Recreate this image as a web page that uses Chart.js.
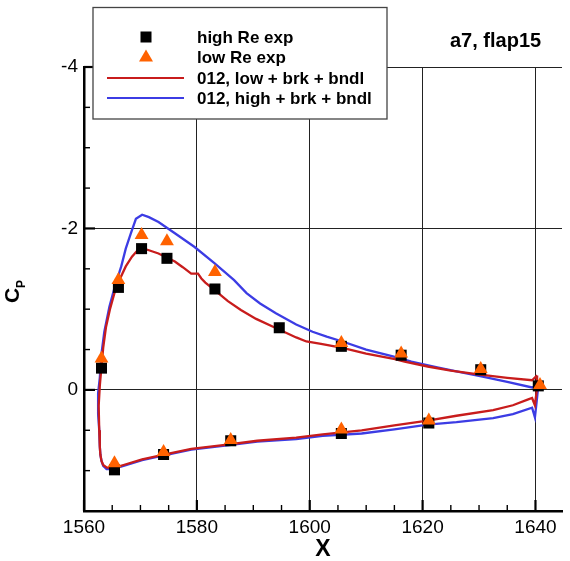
<!DOCTYPE html>
<html>
<head>
<meta charset="utf-8">
<script src="https://cdn.jsdelivr.net/npm/chart.js@4.4.1/dist/chart.umd.min.js"></script>
<style>
html,body{margin:0;padding:0;background:#fff;}
#wrap{width:570px;height:561px;position:relative;}
</style>
</head>
<body>
<div id="wrap"><canvas id="c" width="570" height="561"></canvas></div>
<script>
// ---- data ----
const highReX = [1563.1,1566.1,1570.2,1574.7,1583.2,1594.6,1605.6,1616.2,1630.3,1640.5,1565.4,1574.1,1586.0,1605.6,1621.1];
const highReY = [-0.27,-1.27,-1.75,-1.63,-1.25,-0.77,-0.54,-0.43,-0.25,-0.05,0.99,0.80,0.63,0.54,0.41];

const lowReX = [1563.1,1566.1,1570.2,1574.7,1583.2,1605.6,1616.2,1630.3,1640.8,1565.4,1574.1,1586.0,1605.6,1621.1];
const lowReY = [-0.39,-1.36,-1.92,-1.84,-1.46,-0.58,-0.45,-0.26,-0.06,0.91,0.77,0.62,0.49,0.38];

const lowCurveX = [1640.3,1639.4,1635,1630.2,1625,1620.9,1616.8,1615.1,1610,1605.8,1602,1599.4,1597.6,1593.6,1590.5,1587.8,1585.5,1583.1,1581.5,1580.8,1580.2,1579.0,1577.5,1576.1,1573.2,1571.5,1570.6,1569.5,1568.5,1567.4,1566.4,1565.4,1564.6,1563.9,1563.4,1563.1,1562.8,1562.6,1562.7,1562.8,1562.9,1563.1,1563.4,1564.0,1565.1,1567,1570.3,1575,1579,1585,1590.7,1597.6,1602.3,1609.2,1615,1620.9,1626,1632.5,1636,1638.6,1639.4,1639.9,1640.2,1640.3];
const lowCurveY = [-0.18,-0.12,-0.15,-0.19,-0.24,-0.29,-0.35,-0.38,-0.45,-0.52,-0.57,-0.60,-0.65,-0.78,-0.88,-0.99,-1.10,-1.24,-1.33,-1.38,-1.44,-1.44,-1.52,-1.59,-1.69,-1.73,-1.75,-1.73,-1.65,-1.53,-1.38,-1.20,-1.00,-0.78,-0.52,-0.29,-0.05,0.20,0.50,0.70,0.80,0.88,0.93,0.96,0.97,0.93,0.86,0.79,0.73,0.68,0.63,0.59,0.55,0.50,0.44,0.38,0.32,0.25,0.19,0.12,0.10,0.19,0.02,-0.18];

const highCurveX = [1640.5,1639.4,1635,1630.2,1626,1622.6,1618,1615.6,1610,1605.8,1603,1600.5,1597.6,1594,1591.2,1588.8,1586.6,1583.1,1579.6,1576.1,1573.2,1571.5,1570.3,1569.2,1568.3,1567.4,1566.6,1565.5,1564.5,1563.6,1563.1,1562.8,1562.5,1562.5,1562.7,1562.8,1562.9,1563.1,1563.4,1564.0,1565.1,1567,1570.3,1575,1579.0,1585,1590.7,1597.6,1602.3,1609.2,1615,1620.9,1626,1632.5,1636,1639.4,1639.9,1640.2,1640.5];
const highCurveY = [-0.05,-0.03,-0.10,-0.17,-0.23,-0.28,-0.35,-0.40,-0.50,-0.60,-0.66,-0.72,-0.81,-0.95,-1.07,-1.20,-1.36,-1.57,-1.77,-1.94,-2.08,-2.14,-2.17,-2.12,-1.94,-1.75,-1.53,-1.29,-1.03,-0.72,-0.45,-0.15,0.04,0.30,0.50,0.70,0.80,0.88,0.94,0.98,0.98,0.94,0.87,0.80,0.74,0.69,0.64,0.61,0.57,0.54,0.49,0.43,0.40,0.35,0.30,0.22,0.34,0.15,-0.05];

const legendLabels = ['high Re exp','low Re exp','012, low + brk + bndl','012, high + brk + bndl'];
const annotationText = 'a7, flap15';

// ---- build ----
const zip = (xs, ys) => xs.map((x, i) => ({x: x, y: ys[i]}));
const RED = 'rgb(200,28,28)', BLUE = 'rgb(60,60,228)', ORANGE = 'rgb(255,98,0)';
const FONT = '"Liberation Sans", Arial, sans-serif';

const decor = {
  id: 'decor',
  afterDraw(chart) {
    const ctx = chart.ctx, xs = chart.scales.x, ys = chart.scales.y, ca = chart.chartArea;
    ctx.save();
    ctx.strokeStyle = '#000';
    // x ticks (inside)
    for (let v = 1560; v <= 1644; v += 5) {
      const px = xs.getPixelForValue(v), major = v % 20 === 0;
      ctx.lineWidth = major ? 2.2 : 1.4;
      ctx.beginPath(); ctx.moveTo(px, ca.bottom); ctx.lineTo(px, ca.bottom - (major ? 11 : 6)); ctx.stroke();
    }
    // y ticks (inside)
    for (let v = -4; v <= 1.5001; v += 0.5) {
      const py = ys.getPixelForValue(v), major = Math.abs(v % 2) < 1e-6;
      ctx.lineWidth = major ? 2.2 : 1.4;
      ctx.beginPath(); ctx.moveTo(ca.left, py); ctx.lineTo(ca.left + (major ? 11 : 6), py); ctx.stroke();
    }
    // C_P axis title (rotated)
    ctx.save();
    ctx.translate(19, 296);
    ctx.rotate(-Math.PI / 2);
    ctx.fillStyle = '#000';
    ctx.textBaseline = 'alphabetic';
    ctx.textAlign = 'left';
    ctx.font = 'bold 21px ' + FONT;
    ctx.fillText('C', -7, 0);
    ctx.font = 'bold 12px ' + FONT;
    ctx.fillText('P', 8, 6);
    ctx.restore();
    // legend box
    ctx.fillStyle = '#fff';
    ctx.fillRect(93, 7.5, 294, 111.5);
    ctx.strokeStyle = '#444';
    ctx.lineWidth = 1.3;
    ctx.strokeRect(93, 7.5, 294, 111.5);
    const rows = [37, 57, 78, 98];
    ctx.fillStyle = '#000';
    ctx.fillRect(140.5, 31.5, 11, 11);
    ctx.fillStyle = ORANGE;
    ctx.beginPath(); ctx.moveTo(146, 49.5); ctx.lineTo(153, 61.5); ctx.lineTo(139, 61.5); ctx.closePath(); ctx.fill();
    ctx.lineWidth = 2.2;
    ctx.strokeStyle = RED;
    ctx.beginPath(); ctx.moveTo(107, rows[2]); ctx.lineTo(184, rows[2]); ctx.stroke();
    ctx.strokeStyle = BLUE;
    ctx.beginPath(); ctx.moveTo(107, rows[3]); ctx.lineTo(184, rows[3]); ctx.stroke();
    ctx.fillStyle = '#000';
    ctx.font = 'bold 17px ' + FONT;
    ctx.textBaseline = 'middle';
    ctx.textAlign = 'left';
    legendLabels.forEach((t, i) => ctx.fillText(t, 197, rows[i] + 1));
    ctx.font = 'bold 20px ' + FONT;
    ctx.fillText(annotationText, 450, 41);
    ctx.restore();
  }
};

new Chart(document.getElementById('c'), {
  type: 'scatter',
  data: {
    datasets: [
      {label: legendLabels[1], data: zip(lowReX, lowReY), pointStyle: 'triangle', pointRadius: 8, backgroundColor: ORANGE, borderWidth: 0, showLine: false},
      {label: legendLabels[0], data: zip(highReX, highReY), pointStyle: 'rect', pointRadius: 7.8, backgroundColor: '#000', borderWidth: 0, showLine: false},
      {label: legendLabels[2], data: zip(lowCurveX, lowCurveY), showLine: true, borderColor: RED, borderWidth: 2.3, pointRadius: 0, fill: false, tension: 0},
      {label: legendLabels[3], data: zip(highCurveX, highCurveY), showLine: true, borderColor: BLUE, borderWidth: 2.3, pointRadius: 0, fill: false, tension: 0}
    ]
  },
  options: {
    responsive: false,
    animation: false,
    layout: {padding: {top: 67, right: 0, left: 0, bottom: 0}},
    plugins: {legend: {display: false}, tooltip: {enabled: false}},
    scales: {
      x: {
        type: 'linear', min: 1560, max: 1644.7,
        ticks: {stepSize: 20, includeBounds: false, color: '#000', font: {family: FONT, size: 19}, padding: 5, maxRotation: 0,
                callback: (v) => String(v)},
        grid: {color: '#222', lineWidth: 1, drawTicks: false},
        border: {display: true, color: '#000', width: 2.5},
        title: {display: true, text: 'X', color: '#000', font: {family: FONT, size: 23, weight: 'bold', lineHeight: 1}, padding: {top: 0, bottom: 0}},
        afterFit(s) { s.height = 50; }
      },
      y: {
        type: 'linear', min: -4, max: 1.5, reverse: true,
        ticks: {stepSize: 2, includeBounds: false, color: '#000', font: {family: FONT, size: 19}, padding: 6,
                callback: (v) => String(v)},
        grid: {color: '#222', lineWidth: 1, drawTicks: false},
        border: {display: true, color: '#000', width: 2.5},
        afterFit(s) { s.width = 84; }
      }
    }
  },
  plugins: [decor]
});
</script>
</body>
</html>
